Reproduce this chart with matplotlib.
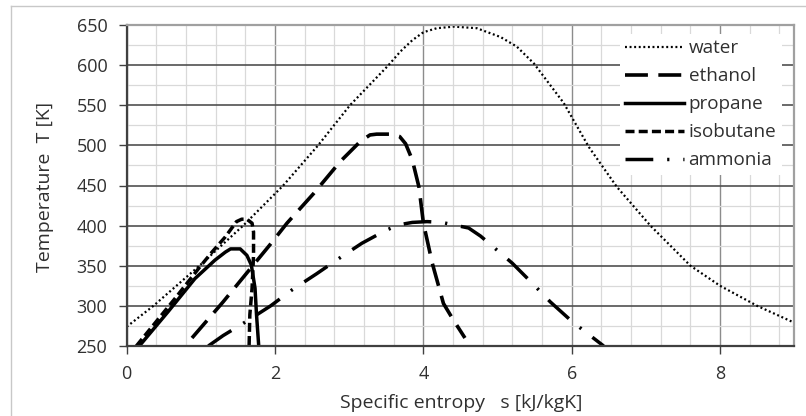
import matplotlib
matplotlib.use('Agg')
import matplotlib.pyplot as plt
from matplotlib.ticker import MultipleLocator
from matplotlib.lines import Line2D

# ---- data ----
water_s = [0.0, 0.36, 0.98, 1.57, 2.11, 2.58, 3.01, 3.53, 3.69, 3.85, 4.0, 4.18, 4.41, 4.72,
           5.04, 5.26, 5.49, 5.89, 6.23, 6.61, 7.06, 7.60, 8.0, 8.5, 9.0]
water_T = [274, 300, 350, 400, 450, 500, 550, 600, 617, 631, 641, 646, 648, 646,
           635, 623, 602, 553, 498, 448, 400, 350, 325, 300, 279]

ethanol_s = [0.88, 1.30, 1.69, 1.93, 2.16, 2.52, 2.88, 3.01, 3.15, 3.28, 3.37, 3.57, 3.68,
             3.76, 3.85, 3.94, 4.00, 4.12, 4.27, 4.40, 4.56]
ethanol_T = [260, 305, 349, 376, 403, 440, 480, 492, 505, 513, 514, 514, 511,
             502, 482, 448, 403, 353, 303, 283, 260]

propane_s = [0.17, 0.56, 0.92, 1.19, 1.33, 1.40, 1.53, 1.62, 1.68, 1.73, 1.75, 1.78]
propane_T = [250, 293, 334, 357, 367, 371, 371, 363, 351, 322, 289, 250]

isobutane_s = [0.13, 0.65, 0.99, 1.15, 1.33, 1.48, 1.55, 1.62, 1.69, 1.71, 1.71, 1.69, 1.66, 1.65]
isobutane_T = [250, 309, 349, 367, 386, 405, 408, 408, 403, 392, 363, 322, 289, 250]

ammonia_s = [1.10, 1.30, 1.62, 1.94, 2.23, 2.56, 2.86, 3.17, 3.49, 3.67, 3.85, 4.05, 4.25,
             4.61, 4.77, 4.91, 5.20, 5.47, 5.71, 6.01, 6.29, 6.43]
ammonia_T = [250, 263, 281, 300, 320, 340, 359, 378, 394, 401, 404, 405, 404,
             397, 387, 376, 353, 328, 305, 280, 260, 250]

labels = ['water', 'ethanol', 'propane', 'isobutane', 'ammonia']
x_ticks = [0, 2, 4, 6, 8]
y_ticks = [250, 300, 350, 400, 450, 500, 550, 600, 650]

# ---- style ----
plt.rcParams['font.family'] = ['Open Sans', 'DejaVu Sans']
plt.rcParams['lines.scale_dashes'] = False
txt = '#303030'

W, H = 806, 416
fig = plt.figure(figsize=(W / 100, H / 100), dpi=100)
x0, x1, y0, y1 = 126.7, 794.3, 25, 346
ax = fig.add_axes([x0 / W, 1 - y1 / H, (x1 - x0) / W, (y1 - y0) / H])

ax.plot(water_s, water_T, color='black', lw=1.6, dashes=(1.4, 1.9), label=labels[0])
ax.plot(ethanol_s, ethanol_T, color='black', lw=2.6, dashes=(16.5, 7.5), label=labels[1])
ax.plot(propane_s, propane_T, color='black', lw=2.5, label=labels[2])
ax.plot(isobutane_s, isobutane_T, color='black', lw=2.5, dashes=(6.5, 3.0), label=labels[3])
ax.plot(ammonia_s, ammonia_T, color='black', lw=2.5, dashes=(20, 10, 1.6, 10), label=labels[4])

ax.set_xlim(0, 9)
ax.set_ylim(250, 650)
ax.set_xticks(x_ticks)
ax.set_yticks(y_ticks)
ax.xaxis.set_minor_locator(MultipleLocator(0.4))
ax.yaxis.set_minor_locator(MultipleLocator(25))
ax.set_axisbelow(True)
ax.xaxis.grid(True, which='minor', color='#d9d9d9', lw=0.9)
ax.yaxis.grid(True, which='minor', color='#d9d9d9', lw=0.9)
ax.xaxis.grid(True, which='major', color='#8c8c8c', lw=1.0)
ax.yaxis.grid(True, which='major', color='#505050', lw=1.2)

ax.tick_params(which='major', direction='out', length=6, width=1.0, color='#404040',
               labelsize=13, labelcolor=txt, pad=8)
ax.tick_params(which='minor', length=0)

for side in ['left', 'bottom']:
    ax.spines[side].set_color('#404040')
    ax.spines[side].set_linewidth(1.6)
for side in ['top', 'right']:
    ax.spines[side].set_color('#a0a0a0')
    ax.spines[side].set_linewidth(1.6)

fig.text(45 / W, 1 - 187 / H, 'Temperature  T [K]', rotation=90, ha='center', va='center',
         fontsize=14, color=txt)
fig.text(461 / W, 1 - 403 / H, 'Specific entropy   s [kJ/kgK]', ha='center', va='center',
         fontsize=14, color=txt)

leg = ax.legend(loc='upper left', bbox_to_anchor=((620 - x0) / (x1 - x0), 1 - (34 - y0) / (y1 - y0)),
                frameon=True, facecolor='white', edgecolor='none', fancybox=False, framealpha=1,
                borderpad=0.28, handlelength=3.1, handletextpad=0.25, labelspacing=0.53,
                borderaxespad=0, fontsize=13.6)
for t in leg.get_texts():
    t.set_color(txt)

# outer chart border (top and left edges visible)
fig.add_artist(Line2D([11 / W, 1], [1 - 6 / H, 1 - 6 / H], color='#c8c8c8', lw=1.0))
fig.add_artist(Line2D([11 / W, 11 / W], [0, 1 - 6 / H], color='#c8c8c8', lw=1.0))

fig.savefig('out.png', dpi=100)
